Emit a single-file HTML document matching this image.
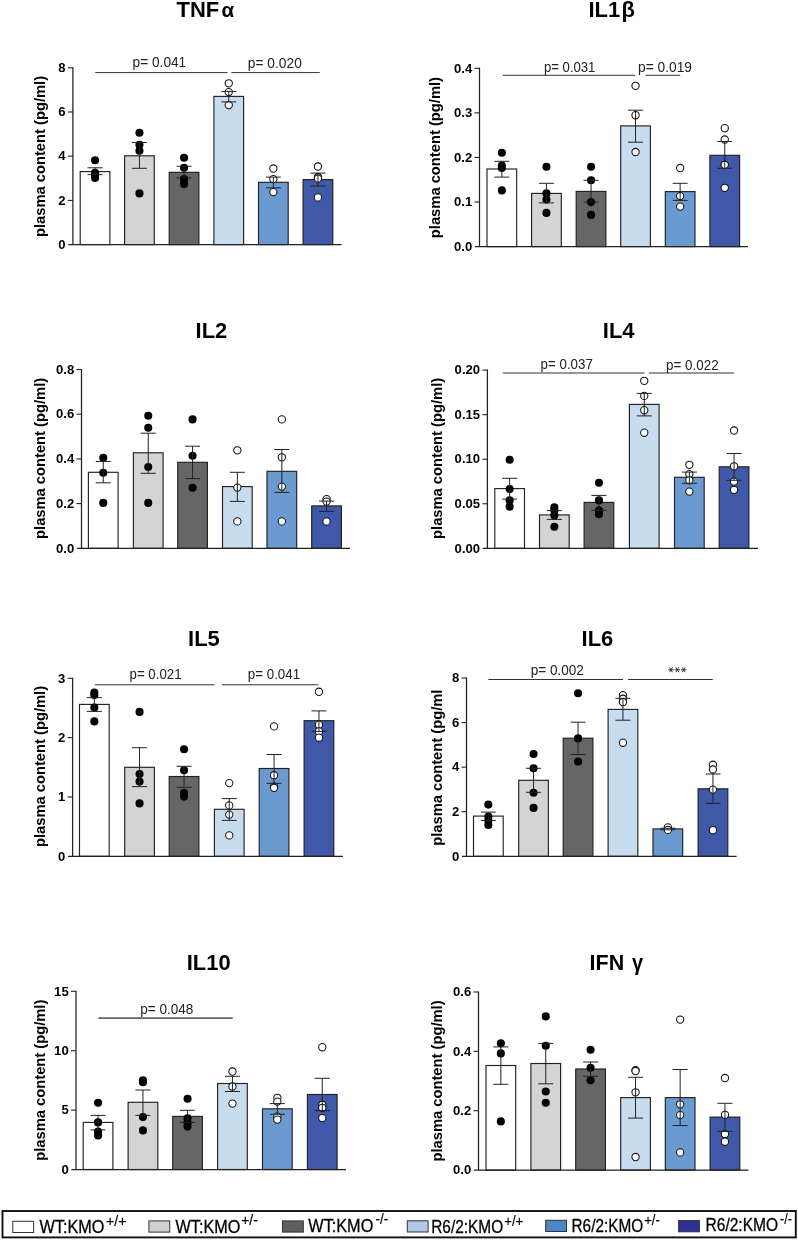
<!DOCTYPE html>
<html lang="en">
<head>
<meta charset="utf-8">
<title>Plasma cytokine content</title>
<style>
html,body{margin:0;padding:0;background:#fff;}
body{width:798px;height:1240px;overflow:hidden;font-family:"Liberation Sans", sans-serif;}
svg{display:block;will-change:transform;}
svg text{font-family:"Liberation Sans", sans-serif;}
</style>
</head>
<body>
<svg width="798" height="1240" viewBox="0 0 798 1240">
<g>
<text transform="translate(176.5,17) scale(0.973,1)" font-size="22.6" font-weight="700" fill="#000">TNF</text>
<text transform="translate(221.4,17.4) scale(1,1)" font-size="20.5" font-weight="700" fill="#000">α</text>
<text transform="translate(44.8,156.5) rotate(-90)" font-size="14.72" font-weight="700" text-anchor="middle" fill="#000">plasma content (pg/ml)</text>
<rect x="80.2" y="171.6" width="29.7" height="73" fill="#ffffff" stroke="#222" stroke-width="1.15"/>
<rect x="124.6" y="155.8" width="29.7" height="88.8" fill="#d4d4d4" stroke="#222" stroke-width="1.15"/>
<rect x="169.2" y="172.3" width="29.7" height="72.3" fill="#666666" stroke="#222" stroke-width="1.15"/>
<rect x="213.9" y="96.4" width="29.7" height="148.2" fill="#c8dcf0" stroke="#222" stroke-width="1.15"/>
<rect x="258.5" y="182.3" width="29.7" height="62.3" fill="#6b9ad0" stroke="#222" stroke-width="1.15"/>
<rect x="303.1" y="179.6" width="29.7" height="65" fill="#3f58a8" stroke="#222" stroke-width="1.15"/>
<path d="M72.9 67.3V244.6M68.3 244.6H341.6" stroke="#222" stroke-width="1.25" fill="none"/>
<path d="M67.9 67.8H72.9" stroke="#222" stroke-width="1.1"/>
<text x="65.6" y="72.05" font-size="13.1" font-weight="700" text-anchor="end" fill="#000">8</text>
<path d="M67.9 112H72.9" stroke="#222" stroke-width="1.1"/>
<text x="65.6" y="116.25" font-size="13.1" font-weight="700" text-anchor="end" fill="#000">6</text>
<path d="M67.9 156.2H72.9" stroke="#222" stroke-width="1.1"/>
<text x="65.6" y="160.45" font-size="13.1" font-weight="700" text-anchor="end" fill="#000">4</text>
<path d="M67.9 200.4H72.9" stroke="#222" stroke-width="1.1"/>
<text x="65.6" y="204.65" font-size="13.1" font-weight="700" text-anchor="end" fill="#000">2</text>
<text x="65.6" y="248.85" font-size="13.1" font-weight="700" text-anchor="end" fill="#000">0</text>
<circle cx="95.05" cy="160.3" r="4.05" fill="#000"/>
<circle cx="95.05" cy="172.8" r="4.05" fill="#000"/>
<circle cx="95.05" cy="175.5" r="4.05" fill="#000"/>
<circle cx="95.05" cy="178" r="4.05" fill="#000"/>
<path d="M95.05 167.8V174.6M87.55 167.8H102.55M87.55 174.6H102.55" stroke="#222" stroke-width="1" fill="none"/>
<circle cx="139.45" cy="132.7" r="4.05" fill="#000"/>
<circle cx="139.45" cy="144.7" r="4.05" fill="#000"/>
<circle cx="139.45" cy="150.8" r="4.05" fill="#000"/>
<circle cx="139.45" cy="193.4" r="4.05" fill="#000"/>
<path d="M139.45 142.5V168.3M131.95 142.5H146.95M131.95 168.3H146.95" stroke="#222" stroke-width="1" fill="none"/>
<circle cx="184.05" cy="157.8" r="4.05" fill="#000"/>
<circle cx="184.05" cy="167.8" r="4.05" fill="#000"/>
<circle cx="184.05" cy="179.1" r="4.05" fill="#000"/>
<circle cx="184.05" cy="184.1" r="4.05" fill="#000"/>
<path d="M184.05 166.3V177.8M176.55 166.3H191.55M176.55 177.8H191.55" stroke="#222" stroke-width="1" fill="none"/>
<circle cx="228.75" cy="83.3" r="3.65" fill="#fff" stroke="#111" stroke-width="1.05"/>
<circle cx="228.75" cy="92.1" r="3.65" fill="#fff" stroke="#111" stroke-width="1.05"/>
<circle cx="228.75" cy="105.1" r="3.65" fill="#fff" stroke="#111" stroke-width="1.05"/>
<path d="M228.75 91.4V101.9M221.25 91.4H236.25M221.25 101.9H236.25" stroke="#222" stroke-width="1" fill="none"/>
<circle cx="273.35" cy="168.5" r="3.65" fill="#fff" stroke="#111" stroke-width="1.05"/>
<circle cx="273.35" cy="179.1" r="3.65" fill="#fff" stroke="#111" stroke-width="1.05"/>
<circle cx="273.35" cy="192.1" r="3.65" fill="#fff" stroke="#111" stroke-width="1.05"/>
<path d="M273.35 177.1V187.8M265.85 177.1H280.85M265.85 187.8H280.85" stroke="#222" stroke-width="1" fill="none"/>
<circle cx="317.95" cy="166.5" r="3.65" fill="#fff" stroke="#111" stroke-width="1.05"/>
<circle cx="317.95" cy="177" r="3.65" fill="#fff" stroke="#111" stroke-width="1.05"/>
<circle cx="317.95" cy="178.5" r="3.65" fill="#fff" stroke="#111" stroke-width="1.05"/>
<circle cx="317.95" cy="197.4" r="3.65" fill="#fff" stroke="#111" stroke-width="1.05"/>
<path d="M317.95 173.1V186.1M310.45 173.1H325.45M310.45 186.1H325.45" stroke="#222" stroke-width="1" fill="none"/>
<path d="M95.2 72.6H227.6" stroke="#333" stroke-width="1"/>
<path d="M231.3 72.6H319.8" stroke="#333" stroke-width="1"/>
<text x="132.6" y="67.1" font-size="14" textLength="53.6" lengthAdjust="spacingAndGlyphs" fill="#222">p= 0.041</text>
<text x="247.8" y="68.3" font-size="14" textLength="54" lengthAdjust="spacingAndGlyphs" fill="#222">p= 0.020</text>
</g>
<g>
<text transform="translate(588.5,17) scale(0.973,1)" font-size="22.6" font-weight="700" fill="#000">IL1</text>
<text transform="translate(621.5,17) scale(1,1)" font-size="22" font-weight="700" fill="#000">β</text>
<text transform="translate(439.8,157.6) rotate(-90)" font-size="14.72" font-weight="700" text-anchor="middle" fill="#000">plasma content (pg/ml)</text>
<rect x="487" y="169" width="29.7" height="77.6" fill="#ffffff" stroke="#222" stroke-width="1.15"/>
<rect x="531.6" y="193.4" width="29.7" height="53.2" fill="#d4d4d4" stroke="#222" stroke-width="1.15"/>
<rect x="576.2" y="191.4" width="29.7" height="55.2" fill="#666666" stroke="#222" stroke-width="1.15"/>
<rect x="620.7" y="125.9" width="29.7" height="120.7" fill="#c8dcf0" stroke="#222" stroke-width="1.15"/>
<rect x="665.3" y="191.6" width="29.7" height="55" fill="#6b9ad0" stroke="#222" stroke-width="1.15"/>
<rect x="709.9" y="155.3" width="29.7" height="91.3" fill="#3f58a8" stroke="#222" stroke-width="1.15"/>
<path d="M479.5 67.8V246.6M474.9 246.6H747.9" stroke="#222" stroke-width="1.25" fill="none"/>
<path d="M474.5 68.3H479.5" stroke="#222" stroke-width="1.1"/>
<text x="472.2" y="72.55" font-size="13.1" font-weight="700" text-anchor="end" fill="#000">0.4</text>
<path d="M474.5 112.88H479.5" stroke="#222" stroke-width="1.1"/>
<text x="472.2" y="117.12" font-size="13.1" font-weight="700" text-anchor="end" fill="#000">0.3</text>
<path d="M474.5 157.45H479.5" stroke="#222" stroke-width="1.1"/>
<text x="472.2" y="161.7" font-size="13.1" font-weight="700" text-anchor="end" fill="#000">0.2</text>
<path d="M474.5 202.03H479.5" stroke="#222" stroke-width="1.1"/>
<text x="472.2" y="206.28" font-size="13.1" font-weight="700" text-anchor="end" fill="#000">0.1</text>
<text x="472.2" y="250.85" font-size="13.1" font-weight="700" text-anchor="end" fill="#000">0.0</text>
<circle cx="501.85" cy="152.8" r="4.05" fill="#000"/>
<circle cx="501.85" cy="165.5" r="4.05" fill="#000"/>
<circle cx="501.85" cy="168" r="4.05" fill="#000"/>
<circle cx="501.85" cy="190.4" r="4.05" fill="#000"/>
<path d="M501.85 161.3V177.1M494.35 161.3H509.35M494.35 177.1H509.35" stroke="#222" stroke-width="1" fill="none"/>
<circle cx="546.45" cy="166.8" r="4.05" fill="#000"/>
<circle cx="546.45" cy="193.4" r="4.05" fill="#000"/>
<circle cx="546.45" cy="199.6" r="4.05" fill="#000"/>
<circle cx="546.45" cy="212.9" r="4.05" fill="#000"/>
<path d="M546.45 183.3V202.9M538.95 183.3H553.95M538.95 202.9H553.95" stroke="#222" stroke-width="1" fill="none"/>
<circle cx="591.05" cy="166.8" r="4.05" fill="#000"/>
<circle cx="591.05" cy="180.3" r="4.05" fill="#000"/>
<circle cx="591.05" cy="202.1" r="4.05" fill="#000"/>
<circle cx="591.05" cy="214.9" r="4.05" fill="#000"/>
<path d="M591.05 180.3V202.1M583.55 180.3H598.55M583.55 202.1H598.55" stroke="#222" stroke-width="1" fill="none"/>
<circle cx="635.55" cy="85.8" r="3.65" fill="#fff" stroke="#111" stroke-width="1.05"/>
<circle cx="635.55" cy="115.2" r="3.65" fill="#fff" stroke="#111" stroke-width="1.05"/>
<circle cx="635.55" cy="152" r="3.65" fill="#fff" stroke="#111" stroke-width="1.05"/>
<path d="M635.55 110.2V142.2M628.05 110.2H643.05M628.05 142.2H643.05" stroke="#222" stroke-width="1" fill="none"/>
<circle cx="680.15" cy="168" r="3.65" fill="#fff" stroke="#111" stroke-width="1.05"/>
<circle cx="680.15" cy="196.1" r="3.65" fill="#fff" stroke="#111" stroke-width="1.05"/>
<circle cx="680.15" cy="206.6" r="3.65" fill="#fff" stroke="#111" stroke-width="1.05"/>
<path d="M680.15 183.3V200.4M672.65 183.3H687.65M672.65 200.4H687.65" stroke="#222" stroke-width="1" fill="none"/>
<circle cx="724.75" cy="128.2" r="3.65" fill="#fff" stroke="#111" stroke-width="1.05"/>
<circle cx="724.75" cy="139.5" r="3.65" fill="#fff" stroke="#111" stroke-width="1.05"/>
<circle cx="724.75" cy="164.8" r="3.65" fill="#fff" stroke="#111" stroke-width="1.05"/>
<circle cx="724.75" cy="187.8" r="3.65" fill="#fff" stroke="#111" stroke-width="1.05"/>
<path d="M724.75 141.5V168.3M717.25 141.5H732.25M717.25 168.3H732.25" stroke="#222" stroke-width="1" fill="none"/>
<path d="M502.7 75.3H635.1" stroke="#333" stroke-width="1"/>
<path d="M645.6 75.3H680.2" stroke="#333" stroke-width="1"/>
<text x="544" y="72.3" font-size="14" textLength="51.4" lengthAdjust="spacingAndGlyphs" fill="#222">p= 0.031</text>
<text x="638.1" y="72.3" font-size="14" textLength="53.9" lengthAdjust="spacingAndGlyphs" fill="#222">p= 0.019</text>
</g>
<g>
<text transform="translate(211.45,338) scale(0.966,1)" font-size="22.7" font-weight="700" text-anchor="middle" fill="#000">IL2</text>
<text transform="translate(44.8,458.4) rotate(-90)" font-size="14.72" font-weight="700" text-anchor="middle" fill="#000">plasma content (pg/ml)</text>
<rect x="88.4" y="472.3" width="29.7" height="76" fill="#ffffff" stroke="#222" stroke-width="1.15"/>
<rect x="133.4" y="452.8" width="29.7" height="95.5" fill="#d4d4d4" stroke="#222" stroke-width="1.15"/>
<rect x="177.7" y="462.3" width="29.7" height="86" fill="#666666" stroke="#222" stroke-width="1.15"/>
<rect x="222.5" y="486.6" width="29.7" height="61.7" fill="#c8dcf0" stroke="#222" stroke-width="1.15"/>
<rect x="267" y="471.3" width="29.7" height="77" fill="#6b9ad0" stroke="#222" stroke-width="1.15"/>
<rect x="311.7" y="505.9" width="29.7" height="42.4" fill="#3f58a8" stroke="#222" stroke-width="1.15"/>
<path d="M81.5 369V548.3M76.9 548.3H349.9" stroke="#222" stroke-width="1.25" fill="none"/>
<path d="M76.5 369.5H81.5" stroke="#222" stroke-width="1.1"/>
<text x="74.2" y="373.75" font-size="13.1" font-weight="700" text-anchor="end" fill="#000">0.8</text>
<path d="M76.5 414.2H81.5" stroke="#222" stroke-width="1.1"/>
<text x="74.2" y="418.45" font-size="13.1" font-weight="700" text-anchor="end" fill="#000">0.6</text>
<path d="M76.5 458.9H81.5" stroke="#222" stroke-width="1.1"/>
<text x="74.2" y="463.15" font-size="13.1" font-weight="700" text-anchor="end" fill="#000">0.4</text>
<path d="M76.5 503.6H81.5" stroke="#222" stroke-width="1.1"/>
<text x="74.2" y="507.85" font-size="13.1" font-weight="700" text-anchor="end" fill="#000">0.2</text>
<text x="74.2" y="552.55" font-size="13.1" font-weight="700" text-anchor="end" fill="#000">0.0</text>
<circle cx="103.25" cy="457.8" r="4.05" fill="#000"/>
<circle cx="103.25" cy="472.8" r="4.05" fill="#000"/>
<circle cx="103.25" cy="502.9" r="4.05" fill="#000"/>
<path d="M103.25 461.5V482.8M95.75 461.5H110.75M95.75 482.8H110.75" stroke="#222" stroke-width="1" fill="none"/>
<circle cx="148.25" cy="415.7" r="4.05" fill="#000"/>
<circle cx="148.25" cy="427.7" r="4.05" fill="#000"/>
<circle cx="148.25" cy="467" r="4.05" fill="#000"/>
<circle cx="148.25" cy="502.9" r="4.05" fill="#000"/>
<path d="M148.25 433.2V473.3M140.75 433.2H155.75M140.75 473.3H155.75" stroke="#222" stroke-width="1" fill="none"/>
<circle cx="192.55" cy="419.4" r="4.05" fill="#000"/>
<circle cx="192.55" cy="455.8" r="4.05" fill="#000"/>
<circle cx="192.55" cy="487.8" r="4.05" fill="#000"/>
<path d="M192.55 446.2V478.6M185.05 446.2H200.05M185.05 478.6H200.05" stroke="#222" stroke-width="1" fill="none"/>
<circle cx="237.35" cy="450.3" r="3.65" fill="#fff" stroke="#111" stroke-width="1.05"/>
<circle cx="237.35" cy="487.6" r="3.65" fill="#fff" stroke="#111" stroke-width="1.05"/>
<circle cx="237.35" cy="521.4" r="3.65" fill="#fff" stroke="#111" stroke-width="1.05"/>
<path d="M237.35 472.3V501.4M229.85 472.3H244.85M229.85 501.4H244.85" stroke="#222" stroke-width="1" fill="none"/>
<circle cx="281.85" cy="419.4" r="3.65" fill="#fff" stroke="#111" stroke-width="1.05"/>
<circle cx="281.85" cy="457.3" r="3.65" fill="#fff" stroke="#111" stroke-width="1.05"/>
<circle cx="281.85" cy="486.6" r="3.65" fill="#fff" stroke="#111" stroke-width="1.05"/>
<circle cx="281.85" cy="521.4" r="3.65" fill="#fff" stroke="#111" stroke-width="1.05"/>
<path d="M281.85 449.5V492.4M274.35 449.5H289.35M274.35 492.4H289.35" stroke="#222" stroke-width="1" fill="none"/>
<circle cx="326.55" cy="499.1" r="3.65" fill="#fff" stroke="#111" stroke-width="1.05"/>
<circle cx="326.55" cy="501.6" r="3.65" fill="#fff" stroke="#111" stroke-width="1.05"/>
<circle cx="326.55" cy="521.4" r="3.65" fill="#fff" stroke="#111" stroke-width="1.05"/>
<path d="M326.55 501.1V511.4M319.05 501.1H334.05M319.05 511.4H334.05" stroke="#222" stroke-width="1" fill="none"/>
</g>
<g>
<text transform="translate(618.7,338) scale(0.966,1)" font-size="22.7" font-weight="700" text-anchor="middle" fill="#000">IL4</text>
<text transform="translate(441.6,458.4) rotate(-90)" font-size="14.72" font-weight="700" text-anchor="middle" fill="#000">plasma content (pg/ml)</text>
<rect x="494.8" y="488.6" width="29.7" height="59.7" fill="#ffffff" stroke="#222" stroke-width="1.15"/>
<rect x="539.5" y="514.9" width="29.7" height="33.4" fill="#d4d4d4" stroke="#222" stroke-width="1.15"/>
<rect x="584.1" y="502.4" width="29.7" height="45.9" fill="#666666" stroke="#222" stroke-width="1.15"/>
<rect x="629.4" y="404.4" width="29.7" height="143.9" fill="#c8dcf0" stroke="#222" stroke-width="1.15"/>
<rect x="674.5" y="477.3" width="29.7" height="71" fill="#6b9ad0" stroke="#222" stroke-width="1.15"/>
<rect x="719.2" y="466.8" width="29.7" height="81.5" fill="#3f58a8" stroke="#222" stroke-width="1.15"/>
<path d="M487.4 369.6V548.3M482.8 548.3H757.9" stroke="#222" stroke-width="1.25" fill="none"/>
<path d="M482.4 370.1H487.4" stroke="#222" stroke-width="1.1"/>
<text x="480.1" y="374.35" font-size="13.1" font-weight="700" text-anchor="end" fill="#000">0.20</text>
<path d="M482.4 414.65H487.4" stroke="#222" stroke-width="1.1"/>
<text x="480.1" y="418.9" font-size="13.1" font-weight="700" text-anchor="end" fill="#000">0.15</text>
<path d="M482.4 459.2H487.4" stroke="#222" stroke-width="1.1"/>
<text x="480.1" y="463.45" font-size="13.1" font-weight="700" text-anchor="end" fill="#000">0.10</text>
<path d="M482.4 503.75H487.4" stroke="#222" stroke-width="1.1"/>
<text x="480.1" y="508" font-size="13.1" font-weight="700" text-anchor="end" fill="#000">0.05</text>
<text x="480.1" y="552.55" font-size="13.1" font-weight="700" text-anchor="end" fill="#000">0.00</text>
<circle cx="509.65" cy="459.8" r="4.05" fill="#000"/>
<circle cx="509.65" cy="489.1" r="4.05" fill="#000"/>
<circle cx="509.65" cy="500.4" r="4.05" fill="#000"/>
<circle cx="509.65" cy="506.6" r="4.05" fill="#000"/>
<path d="M509.65 478.3V499.1M502.15 478.3H517.15M502.15 499.1H517.15" stroke="#222" stroke-width="1" fill="none"/>
<circle cx="554.35" cy="507.4" r="4.05" fill="#000"/>
<circle cx="554.35" cy="510.4" r="4.05" fill="#000"/>
<circle cx="554.35" cy="515.4" r="4.05" fill="#000"/>
<circle cx="554.35" cy="526.7" r="4.05" fill="#000"/>
<path d="M554.35 510.6V519.4M546.85 510.6H561.85M546.85 519.4H561.85" stroke="#222" stroke-width="1" fill="none"/>
<circle cx="598.95" cy="482.8" r="4.05" fill="#000"/>
<circle cx="598.95" cy="500.4" r="4.05" fill="#000"/>
<circle cx="598.95" cy="510.4" r="4.05" fill="#000"/>
<circle cx="598.95" cy="514.2" r="4.05" fill="#000"/>
<path d="M598.95 495.4V510.4M591.45 495.4H606.45M591.45 510.4H606.45" stroke="#222" stroke-width="1" fill="none"/>
<circle cx="644.25" cy="380.8" r="3.65" fill="#fff" stroke="#111" stroke-width="1.05"/>
<circle cx="644.25" cy="395.9" r="3.65" fill="#fff" stroke="#111" stroke-width="1.05"/>
<circle cx="644.25" cy="410.2" r="3.65" fill="#fff" stroke="#111" stroke-width="1.05"/>
<circle cx="644.25" cy="432.7" r="3.65" fill="#fff" stroke="#111" stroke-width="1.05"/>
<path d="M644.25 393.4V415.9M636.75 393.4H651.75M636.75 415.9H651.75" stroke="#222" stroke-width="1" fill="none"/>
<circle cx="689.35" cy="464.8" r="3.65" fill="#fff" stroke="#111" stroke-width="1.05"/>
<circle cx="689.35" cy="474.1" r="3.65" fill="#fff" stroke="#111" stroke-width="1.05"/>
<circle cx="689.35" cy="480.3" r="3.65" fill="#fff" stroke="#111" stroke-width="1.05"/>
<circle cx="689.35" cy="491.6" r="3.65" fill="#fff" stroke="#111" stroke-width="1.05"/>
<path d="M689.35 472.1V483.3M681.85 472.1H696.85M681.85 483.3H696.85" stroke="#222" stroke-width="1" fill="none"/>
<circle cx="734.05" cy="430.5" r="3.65" fill="#fff" stroke="#111" stroke-width="1.05"/>
<circle cx="734.05" cy="466.3" r="3.65" fill="#fff" stroke="#111" stroke-width="1.05"/>
<circle cx="734.05" cy="481.6" r="3.65" fill="#fff" stroke="#111" stroke-width="1.05"/>
<circle cx="734.05" cy="489.8" r="3.65" fill="#fff" stroke="#111" stroke-width="1.05"/>
<path d="M734.05 453.5V480.3M726.55 453.5H741.55M726.55 480.3H741.55" stroke="#222" stroke-width="1" fill="none"/>
<path d="M502.7 373H644.4" stroke="#333" stroke-width="1"/>
<path d="M648.9 373H734.1" stroke="#333" stroke-width="1"/>
<text x="540.6" y="369.1" font-size="14" textLength="52.2" lengthAdjust="spacingAndGlyphs" fill="#222">p= 0.037</text>
<text x="666.1" y="370.3" font-size="14" textLength="52.5" lengthAdjust="spacingAndGlyphs" fill="#222">p= 0.022</text>
</g>
<g>
<text transform="translate(203.95,645.6) scale(0.966,1)" font-size="22.7" font-weight="700" text-anchor="middle" fill="#000">IL5</text>
<text transform="translate(44.8,766.5) rotate(-90)" font-size="14.72" font-weight="700" text-anchor="middle" fill="#000">plasma content (pg/ml)</text>
<rect x="79.5" y="704.4" width="29.7" height="151.9" fill="#ffffff" stroke="#222" stroke-width="1.15"/>
<rect x="124.7" y="767.3" width="29.7" height="89" fill="#d4d4d4" stroke="#222" stroke-width="1.15"/>
<rect x="169.2" y="776.5" width="29.7" height="79.8" fill="#666666" stroke="#222" stroke-width="1.15"/>
<rect x="214.4" y="809.3" width="29.7" height="47" fill="#c8dcf0" stroke="#222" stroke-width="1.15"/>
<rect x="259.2" y="768.5" width="29.7" height="87.8" fill="#6b9ad0" stroke="#222" stroke-width="1.15"/>
<rect x="304.1" y="720.7" width="29.7" height="135.6" fill="#3f58a8" stroke="#222" stroke-width="1.15"/>
<path d="M72.6 677.8V856.3M68 856.3H342.9" stroke="#222" stroke-width="1.25" fill="none"/>
<path d="M67.6 678.3H72.6" stroke="#222" stroke-width="1.1"/>
<text x="65.3" y="682.55" font-size="13.1" font-weight="700" text-anchor="end" fill="#000">3</text>
<path d="M67.6 737.63H72.6" stroke="#222" stroke-width="1.1"/>
<text x="65.3" y="741.88" font-size="13.1" font-weight="700" text-anchor="end" fill="#000">2</text>
<path d="M67.6 796.97H72.6" stroke="#222" stroke-width="1.1"/>
<text x="65.3" y="801.22" font-size="13.1" font-weight="700" text-anchor="end" fill="#000">1</text>
<text x="65.3" y="860.55" font-size="13.1" font-weight="700" text-anchor="end" fill="#000">0</text>
<circle cx="94.35" cy="692.6" r="4.05" fill="#000"/>
<circle cx="94.35" cy="695.1" r="4.05" fill="#000"/>
<circle cx="94.35" cy="707.6" r="4.05" fill="#000"/>
<circle cx="94.35" cy="721.4" r="4.05" fill="#000"/>
<path d="M94.35 697.6V711.4M86.85 697.6H101.85M86.85 711.4H101.85" stroke="#222" stroke-width="1" fill="none"/>
<circle cx="139.55" cy="711.9" r="4.05" fill="#000"/>
<circle cx="139.55" cy="774" r="4.05" fill="#000"/>
<circle cx="139.55" cy="781.6" r="4.05" fill="#000"/>
<circle cx="139.55" cy="803.4" r="4.05" fill="#000"/>
<path d="M139.55 747.7V786.6M132.05 747.7H147.05M132.05 786.6H147.05" stroke="#222" stroke-width="1" fill="none"/>
<circle cx="184.05" cy="749.2" r="4.05" fill="#000"/>
<circle cx="184.05" cy="770.3" r="4.05" fill="#000"/>
<circle cx="184.05" cy="792.8" r="4.05" fill="#000"/>
<circle cx="184.05" cy="796.6" r="4.05" fill="#000"/>
<path d="M184.05 766.3V787.3M176.55 766.3H191.55M176.55 787.3H191.55" stroke="#222" stroke-width="1" fill="none"/>
<circle cx="229.25" cy="783.1" r="3.65" fill="#fff" stroke="#111" stroke-width="1.05"/>
<circle cx="229.25" cy="805.4" r="3.65" fill="#fff" stroke="#111" stroke-width="1.05"/>
<circle cx="229.25" cy="814.6" r="3.65" fill="#fff" stroke="#111" stroke-width="1.05"/>
<circle cx="229.25" cy="835.4" r="3.65" fill="#fff" stroke="#111" stroke-width="1.05"/>
<path d="M229.25 798.6V820.4M221.75 798.6H236.75M221.75 820.4H236.75" stroke="#222" stroke-width="1" fill="none"/>
<circle cx="274.05" cy="726.4" r="3.65" fill="#fff" stroke="#111" stroke-width="1.05"/>
<circle cx="274.05" cy="775.3" r="3.65" fill="#fff" stroke="#111" stroke-width="1.05"/>
<circle cx="274.05" cy="786.6" r="3.65" fill="#fff" stroke="#111" stroke-width="1.05"/>
<circle cx="274.05" cy="787.8" r="3.65" fill="#fff" stroke="#111" stroke-width="1.05"/>
<path d="M274.05 754.5V783.3M266.55 754.5H281.55M266.55 783.3H281.55" stroke="#222" stroke-width="1" fill="none"/>
<circle cx="318.95" cy="691.8" r="3.65" fill="#fff" stroke="#111" stroke-width="1.05"/>
<circle cx="318.95" cy="724.7" r="3.65" fill="#fff" stroke="#111" stroke-width="1.05"/>
<circle cx="318.95" cy="731.4" r="3.65" fill="#fff" stroke="#111" stroke-width="1.05"/>
<circle cx="318.95" cy="737.7" r="3.65" fill="#fff" stroke="#111" stroke-width="1.05"/>
<path d="M318.95 710.9V731.4M311.45 710.9H326.45M311.45 731.4H326.45" stroke="#222" stroke-width="1" fill="none"/>
<path d="M94.7 684.8H214.6" stroke="#333" stroke-width="1"/>
<path d="M221.9 684.8H318.5" stroke="#333" stroke-width="1"/>
<text x="129.6" y="679.2" font-size="14" textLength="51.9" lengthAdjust="spacingAndGlyphs" fill="#222">p= 0.021</text>
<text x="247.8" y="679.2" font-size="14" textLength="52.3" lengthAdjust="spacingAndGlyphs" fill="#222">p= 0.041</text>
</g>
<g>
<text transform="translate(597.4,645.6) scale(0.966,1)" font-size="22.7" font-weight="700" text-anchor="middle" fill="#000">IL6</text>
<text transform="translate(441.6,767.7) rotate(-90)" font-size="14.72" font-weight="700" text-anchor="middle" fill="#000">plasma content (pg/ml</text>
<rect x="473.5" y="816.1" width="29.7" height="40.2" fill="#ffffff" stroke="#222" stroke-width="1.15"/>
<rect x="518.7" y="780.3" width="29.7" height="76" fill="#d4d4d4" stroke="#222" stroke-width="1.15"/>
<rect x="563.2" y="738.2" width="29.7" height="118.1" fill="#666666" stroke="#222" stroke-width="1.15"/>
<rect x="608.1" y="709.4" width="29.7" height="146.9" fill="#c8dcf0" stroke="#222" stroke-width="1.15"/>
<rect x="653" y="828.9" width="29.7" height="27.4" fill="#6b9ad0" stroke="#222" stroke-width="1.15"/>
<rect x="698.1" y="788.8" width="29.7" height="67.5" fill="#3f58a8" stroke="#222" stroke-width="1.15"/>
<path d="M466.5 677.5V856.3M461.9 856.3H736.6" stroke="#222" stroke-width="1.25" fill="none"/>
<path d="M461.5 678H466.5" stroke="#222" stroke-width="1.1"/>
<text x="459.2" y="682.25" font-size="13.1" font-weight="700" text-anchor="end" fill="#000">8</text>
<path d="M461.5 722.58H466.5" stroke="#222" stroke-width="1.1"/>
<text x="459.2" y="726.83" font-size="13.1" font-weight="700" text-anchor="end" fill="#000">6</text>
<path d="M461.5 767.15H466.5" stroke="#222" stroke-width="1.1"/>
<text x="459.2" y="771.4" font-size="13.1" font-weight="700" text-anchor="end" fill="#000">4</text>
<path d="M461.5 811.72H466.5" stroke="#222" stroke-width="1.1"/>
<text x="459.2" y="815.97" font-size="13.1" font-weight="700" text-anchor="end" fill="#000">2</text>
<text x="459.2" y="860.55" font-size="13.1" font-weight="700" text-anchor="end" fill="#000">0</text>
<circle cx="488.35" cy="804.6" r="4.05" fill="#000"/>
<circle cx="488.35" cy="816.6" r="4.05" fill="#000"/>
<circle cx="488.35" cy="820.4" r="4.05" fill="#000"/>
<circle cx="488.35" cy="824.9" r="4.05" fill="#000"/>
<path d="M488.35 812.1V820.4M480.85 812.1H495.85M480.85 820.4H495.85" stroke="#222" stroke-width="1" fill="none"/>
<circle cx="533.55" cy="754" r="4.05" fill="#000"/>
<circle cx="533.55" cy="768.3" r="4.05" fill="#000"/>
<circle cx="533.55" cy="792.8" r="4.05" fill="#000"/>
<circle cx="533.55" cy="807.9" r="4.05" fill="#000"/>
<path d="M533.55 768.3V792.3M526.05 768.3H541.05M526.05 792.3H541.05" stroke="#222" stroke-width="1" fill="none"/>
<circle cx="578.05" cy="693.3" r="4.05" fill="#000"/>
<circle cx="578.05" cy="738.4" r="4.05" fill="#000"/>
<circle cx="578.05" cy="761.5" r="4.05" fill="#000"/>
<path d="M578.05 722.2V754.5M570.55 722.2H585.55M570.55 754.5H585.55" stroke="#222" stroke-width="1" fill="none"/>
<circle cx="622.95" cy="695.1" r="3.65" fill="#fff" stroke="#111" stroke-width="1.05"/>
<circle cx="622.95" cy="698.8" r="3.65" fill="#fff" stroke="#111" stroke-width="1.05"/>
<circle cx="622.95" cy="702.1" r="3.65" fill="#fff" stroke="#111" stroke-width="1.05"/>
<circle cx="622.95" cy="742.7" r="3.65" fill="#fff" stroke="#111" stroke-width="1.05"/>
<path d="M622.95 698.3V720.2M615.45 698.3H630.45M615.45 720.2H630.45" stroke="#222" stroke-width="1" fill="none"/>
<circle cx="667.85" cy="827.4" r="3.65" fill="#fff" stroke="#111" stroke-width="1.05"/>
<circle cx="667.85" cy="829.9" r="3.65" fill="#fff" stroke="#111" stroke-width="1.05"/>
<path d="M667.85 828.2V829.8M660.35 828.2H675.35M660.35 829.8H675.35" stroke="#222" stroke-width="1" fill="none"/>
<circle cx="712.95" cy="764.8" r="3.65" fill="#fff" stroke="#111" stroke-width="1.05"/>
<circle cx="712.95" cy="769.5" r="3.65" fill="#fff" stroke="#111" stroke-width="1.05"/>
<circle cx="712.95" cy="789.6" r="3.65" fill="#fff" stroke="#111" stroke-width="1.05"/>
<circle cx="712.95" cy="830.2" r="3.65" fill="#fff" stroke="#111" stroke-width="1.05"/>
<path d="M712.95 774V803.4M705.45 774H720.45M705.45 803.4H720.45" stroke="#222" stroke-width="1" fill="none"/>
<path d="M488.4 679.5H623.1" stroke="#333" stroke-width="1"/>
<path d="M628.1 679.5H712.8" stroke="#333" stroke-width="1"/>
<text x="530.7" y="675.1" font-size="14" textLength="53.1" lengthAdjust="spacingAndGlyphs" fill="#222">p= 0.002</text>
<path d="M668.2 669.8L673.8 669.8M669.6 667.38L672.4 672.22M672.4 667.38L669.6 672.22M674.55 669.8L680.15 669.8M675.95 667.38L678.75 672.22M678.75 667.38L675.95 672.22M680.9 669.8L686.5 669.8M682.3 667.38L685.1 672.22M685.1 667.38L682.3 672.22" stroke="#333" stroke-width="1.0" fill="none"/>
</g>
<g>
<text transform="translate(208.65,969.6) scale(0.966,1)" font-size="22.7" font-weight="700" text-anchor="middle" fill="#000">IL10</text>
<text transform="translate(44.8,1080.2) rotate(-90)" font-size="14.72" font-weight="700" text-anchor="middle" fill="#000">plasma content (pg/ml)</text>
<rect x="83.2" y="1122.4" width="29.7" height="47.1" fill="#ffffff" stroke="#222" stroke-width="1.15"/>
<rect x="128.1" y="1102.3" width="29.7" height="67.2" fill="#d4d4d4" stroke="#222" stroke-width="1.15"/>
<rect x="172.7" y="1116.4" width="29.7" height="53.1" fill="#666666" stroke="#222" stroke-width="1.15"/>
<rect x="217.6" y="1083.5" width="29.7" height="86" fill="#c8dcf0" stroke="#222" stroke-width="1.15"/>
<rect x="262.5" y="1108.8" width="29.7" height="60.7" fill="#6b9ad0" stroke="#222" stroke-width="1.15"/>
<rect x="307.4" y="1094.5" width="29.7" height="75" fill="#3f58a8" stroke="#222" stroke-width="1.15"/>
<path d="M76 990.8V1169.5M71.4 1169.5H346.1" stroke="#222" stroke-width="1.25" fill="none"/>
<path d="M71 991.3H76" stroke="#222" stroke-width="1.1"/>
<text x="68.7" y="995.55" font-size="13.1" font-weight="700" text-anchor="end" fill="#000">15</text>
<path d="M71 1050.7H76" stroke="#222" stroke-width="1.1"/>
<text x="68.7" y="1054.95" font-size="13.1" font-weight="700" text-anchor="end" fill="#000">10</text>
<path d="M71 1110.1H76" stroke="#222" stroke-width="1.1"/>
<text x="68.7" y="1114.35" font-size="13.1" font-weight="700" text-anchor="end" fill="#000">5</text>
<text x="68.7" y="1173.75" font-size="13.1" font-weight="700" text-anchor="end" fill="#000">0</text>
<circle cx="98.05" cy="1102.8" r="4.05" fill="#000"/>
<circle cx="98.05" cy="1122.4" r="4.05" fill="#000"/>
<circle cx="98.05" cy="1131.6" r="4.05" fill="#000"/>
<circle cx="98.05" cy="1135.4" r="4.05" fill="#000"/>
<path d="M98.05 1115.4V1129.9M90.55 1115.4H105.55M90.55 1129.9H105.55" stroke="#222" stroke-width="1" fill="none"/>
<circle cx="142.95" cy="1080.3" r="4.05" fill="#000"/>
<circle cx="142.95" cy="1082.3" r="4.05" fill="#000"/>
<circle cx="142.95" cy="1117.1" r="4.05" fill="#000"/>
<circle cx="142.95" cy="1130.4" r="4.05" fill="#000"/>
<path d="M142.95 1090V1115.4M135.45 1090H150.45M135.45 1115.4H150.45" stroke="#222" stroke-width="1" fill="none"/>
<circle cx="187.55" cy="1098.8" r="4.05" fill="#000"/>
<circle cx="187.55" cy="1118.4" r="4.05" fill="#000"/>
<circle cx="187.55" cy="1122.9" r="4.05" fill="#000"/>
<circle cx="187.55" cy="1126.6" r="4.05" fill="#000"/>
<path d="M187.55 1110.3V1122.4M180.05 1110.3H195.05M180.05 1122.4H195.05" stroke="#222" stroke-width="1" fill="none"/>
<circle cx="232.45" cy="1071.5" r="3.65" fill="#fff" stroke="#111" stroke-width="1.05"/>
<circle cx="232.45" cy="1086.5" r="3.65" fill="#fff" stroke="#111" stroke-width="1.05"/>
<circle cx="232.45" cy="1103.6" r="3.65" fill="#fff" stroke="#111" stroke-width="1.05"/>
<path d="M232.45 1076.3V1091.5M224.95 1076.3H239.95M224.95 1091.5H239.95" stroke="#222" stroke-width="1" fill="none"/>
<circle cx="277.35" cy="1097.8" r="3.65" fill="#fff" stroke="#111" stroke-width="1.05"/>
<circle cx="277.35" cy="1101.6" r="3.65" fill="#fff" stroke="#111" stroke-width="1.05"/>
<circle cx="277.35" cy="1116.6" r="3.65" fill="#fff" stroke="#111" stroke-width="1.05"/>
<circle cx="277.35" cy="1119.6" r="3.65" fill="#fff" stroke="#111" stroke-width="1.05"/>
<path d="M277.35 1103.6V1114.3M269.85 1103.6H284.85M269.85 1114.3H284.85" stroke="#222" stroke-width="1" fill="none"/>
<circle cx="322.25" cy="1047.2" r="3.65" fill="#fff" stroke="#111" stroke-width="1.05"/>
<circle cx="322.25" cy="1104.8" r="3.65" fill="#fff" stroke="#111" stroke-width="1.05"/>
<circle cx="322.25" cy="1107.8" r="3.65" fill="#fff" stroke="#111" stroke-width="1.05"/>
<circle cx="322.25" cy="1118.1" r="3.65" fill="#fff" stroke="#111" stroke-width="1.05"/>
<path d="M322.25 1078.3V1110.6M314.75 1078.3H329.75M314.75 1110.6H329.75" stroke="#222" stroke-width="1" fill="none"/>
<path d="M98.4 1018.1H232.8" stroke="#666" stroke-width="1.7"/>
<text x="140.3" y="1013.8" font-size="14" textLength="53.1" lengthAdjust="spacingAndGlyphs" fill="#222">p= 0.048</text>
</g>
<g>
<text transform="translate(589.6,969.6) scale(0.95,1)" font-size="22.6" font-weight="700" fill="#000">IFN</text>
<text transform="translate(631.9,970) scale(0.93,1)" font-size="21.5" font-weight="700" fill="#000">γ</text>
<text transform="translate(441.6,1081) rotate(-90)" font-size="14.72" font-weight="700" text-anchor="middle" fill="#000">plasma content (pg/ml)</text>
<rect x="486" y="1065.5" width="29.7" height="104.6" fill="#ffffff" stroke="#222" stroke-width="1.15"/>
<rect x="530.9" y="1063.5" width="29.7" height="106.6" fill="#d4d4d4" stroke="#222" stroke-width="1.15"/>
<rect x="575.7" y="1069" width="29.7" height="101.1" fill="#666666" stroke="#222" stroke-width="1.15"/>
<rect x="620.7" y="1097.6" width="29.7" height="72.5" fill="#c8dcf0" stroke="#222" stroke-width="1.15"/>
<rect x="665.3" y="1097.6" width="29.7" height="72.5" fill="#6b9ad0" stroke="#222" stroke-width="1.15"/>
<rect x="710.1" y="1117.1" width="29.7" height="53" fill="#3f58a8" stroke="#222" stroke-width="1.15"/>
<path d="M478.5 991.5V1170.1M473.9 1170.1H748.4" stroke="#222" stroke-width="1.25" fill="none"/>
<path d="M473.5 992H478.5" stroke="#222" stroke-width="1.1"/>
<text x="471.2" y="996.25" font-size="13.1" font-weight="700" text-anchor="end" fill="#000">0.6</text>
<path d="M473.5 1051.37H478.5" stroke="#222" stroke-width="1.1"/>
<text x="471.2" y="1055.62" font-size="13.1" font-weight="700" text-anchor="end" fill="#000">0.4</text>
<path d="M473.5 1110.73H478.5" stroke="#222" stroke-width="1.1"/>
<text x="471.2" y="1114.98" font-size="13.1" font-weight="700" text-anchor="end" fill="#000">0.2</text>
<text x="471.2" y="1174.35" font-size="13.1" font-weight="700" text-anchor="end" fill="#000">0.0</text>
<circle cx="500.85" cy="1043.2" r="4.05" fill="#000"/>
<circle cx="500.85" cy="1053.4" r="4.05" fill="#000"/>
<circle cx="500.85" cy="1121.4" r="4.05" fill="#000"/>
<path d="M500.85 1046.9V1084.3M493.35 1046.9H508.35M493.35 1084.3H508.35" stroke="#222" stroke-width="1" fill="none"/>
<circle cx="545.75" cy="1016.4" r="4.05" fill="#000"/>
<circle cx="545.75" cy="1045.7" r="4.05" fill="#000"/>
<circle cx="545.75" cy="1091.5" r="4.05" fill="#000"/>
<circle cx="545.75" cy="1102.8" r="4.05" fill="#000"/>
<path d="M545.75 1043.4V1083.8M538.25 1043.4H553.25M538.25 1083.8H553.25" stroke="#222" stroke-width="1" fill="none"/>
<circle cx="590.55" cy="1049.7" r="4.05" fill="#000"/>
<circle cx="590.55" cy="1067.7" r="4.05" fill="#000"/>
<circle cx="590.55" cy="1080.3" r="4.05" fill="#000"/>
<path d="M590.55 1062V1076.3M583.05 1062H598.05M583.05 1076.3H598.05" stroke="#222" stroke-width="1" fill="none"/>
<circle cx="635.55" cy="1070.2" r="3.65" fill="#fff" stroke="#111" stroke-width="1.05"/>
<circle cx="635.55" cy="1071" r="3.65" fill="#fff" stroke="#111" stroke-width="1.05"/>
<circle cx="635.55" cy="1092.3" r="3.65" fill="#fff" stroke="#111" stroke-width="1.05"/>
<circle cx="635.55" cy="1157" r="3.65" fill="#fff" stroke="#111" stroke-width="1.05"/>
<path d="M635.55 1077.3V1118.1M628.05 1077.3H643.05M628.05 1118.1H643.05" stroke="#222" stroke-width="1" fill="none"/>
<circle cx="680.15" cy="1019.6" r="3.65" fill="#fff" stroke="#111" stroke-width="1.05"/>
<circle cx="680.15" cy="1104.3" r="3.65" fill="#fff" stroke="#111" stroke-width="1.05"/>
<circle cx="680.15" cy="1115.1" r="3.65" fill="#fff" stroke="#111" stroke-width="1.05"/>
<circle cx="680.15" cy="1152.4" r="3.65" fill="#fff" stroke="#111" stroke-width="1.05"/>
<path d="M680.15 1069.5V1125.6M672.65 1069.5H687.65M672.65 1125.6H687.65" stroke="#222" stroke-width="1" fill="none"/>
<circle cx="724.95" cy="1078" r="3.65" fill="#fff" stroke="#111" stroke-width="1.05"/>
<circle cx="724.95" cy="1114.8" r="3.65" fill="#fff" stroke="#111" stroke-width="1.05"/>
<circle cx="724.95" cy="1134.1" r="3.65" fill="#fff" stroke="#111" stroke-width="1.05"/>
<circle cx="724.95" cy="1141.7" r="3.65" fill="#fff" stroke="#111" stroke-width="1.05"/>
<path d="M724.95 1103.3V1131.4M717.45 1103.3H732.45M717.45 1131.4H732.45" stroke="#222" stroke-width="1" fill="none"/>
</g>
<rect x="2.5" y="1211" width="793.3" height="26.4" fill="#fff" stroke="#111" stroke-width="1.9"/>
<rect x="12.8" y="1221.3" width="20.8" height="11.2" fill="#ffffff" stroke="#333" stroke-width="1"/>
<text x="39.5" y="1233" font-size="18.4" textLength="64.9" lengthAdjust="spacingAndGlyphs" fill="#000" stroke="#000" stroke-width="0.3">WT:KMO</text>
<text x="105.9" y="1225.8" font-size="14" textLength="20.6" lengthAdjust="spacingAndGlyphs" fill="#000" stroke="#000" stroke-width="0.15">+/+</text>
<rect x="148.9" y="1220.9" width="20.8" height="11.2" fill="#d0d0d0" stroke="#333" stroke-width="1"/>
<text x="175.5" y="1232.55" font-size="18.4" textLength="64.8" lengthAdjust="spacingAndGlyphs" fill="#000" stroke="#000" stroke-width="0.3">WT:KMO</text>
<text x="241.2" y="1224.8" font-size="14" textLength="16.7" lengthAdjust="spacingAndGlyphs" fill="#000" stroke="#000" stroke-width="0.15">+/-</text>
<rect x="282.5" y="1220.9" width="20.8" height="11.2" fill="#5f5f5f" stroke="#333" stroke-width="1"/>
<text x="308.3" y="1232.2" font-size="18.4" textLength="65" lengthAdjust="spacingAndGlyphs" fill="#000" stroke="#000" stroke-width="0.3">WT:KMO</text>
<text x="375.4" y="1224.3" font-size="14" textLength="12.8" lengthAdjust="spacingAndGlyphs" fill="#000" stroke="#000" stroke-width="0.15">-/-</text>
<rect x="407.3" y="1220.8" width="20.8" height="11.2" fill="#b3c7e6" stroke="#333" stroke-width="1"/>
<text x="431.2" y="1232.5" font-size="18.4" textLength="72" lengthAdjust="spacingAndGlyphs" fill="#000" stroke="#000" stroke-width="0.3">R6/2:KMO</text>
<text x="504.2" y="1226" font-size="14" textLength="19.1" lengthAdjust="spacingAndGlyphs" fill="#000" stroke="#000" stroke-width="0.15">+/+</text>
<rect x="545.7" y="1220.3" width="20.8" height="11.2" fill="#4a86c8" stroke="#333" stroke-width="1"/>
<text x="571.5" y="1231.6" font-size="18.4" textLength="71.8" lengthAdjust="spacingAndGlyphs" fill="#000" stroke="#000" stroke-width="0.3">R6/2:KMO</text>
<text x="644.2" y="1224.5" font-size="14" textLength="15.6" lengthAdjust="spacingAndGlyphs" fill="#000" stroke="#000" stroke-width="0.15">+/-</text>
<rect x="678.6" y="1220.6" width="20.8" height="11.2" fill="#2d3296" stroke="#333" stroke-width="1"/>
<text x="705.5" y="1231.2" font-size="18.4" textLength="72.6" lengthAdjust="spacingAndGlyphs" fill="#000" stroke="#000" stroke-width="0.3">R6/2:KMO</text>
<text x="780" y="1223.6" font-size="14" textLength="12" lengthAdjust="spacingAndGlyphs" fill="#000" stroke="#000" stroke-width="0.15">-/-</text>
</svg>
</body>
</html>
